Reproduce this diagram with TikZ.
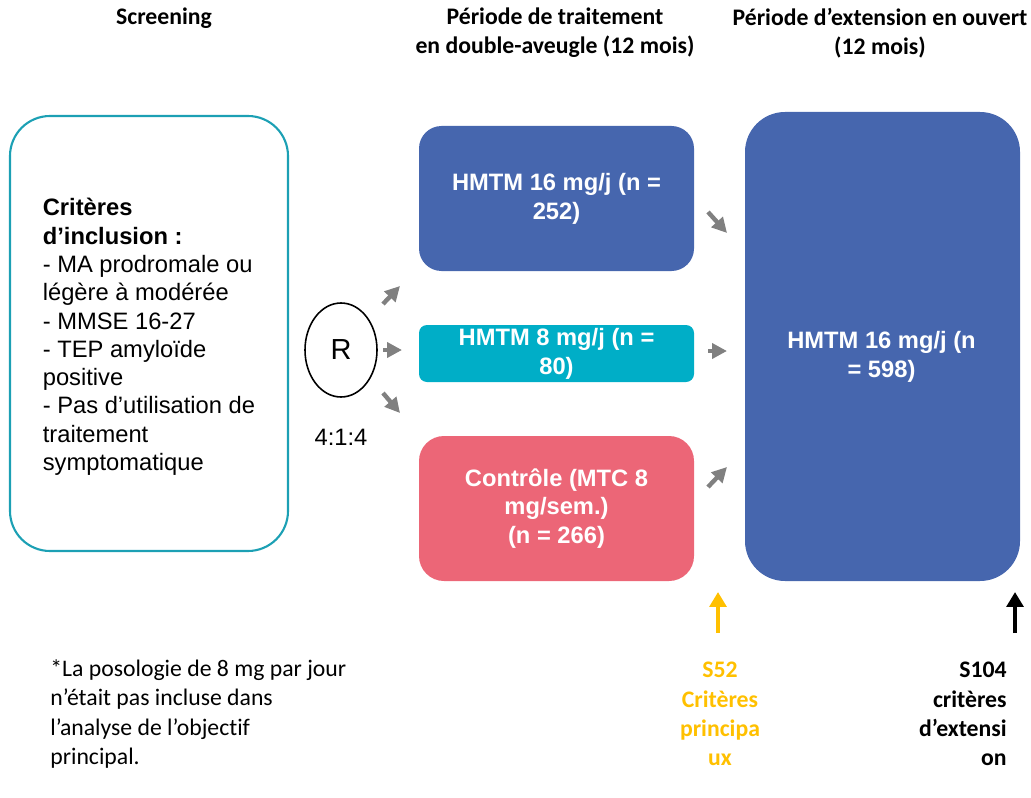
\documentclass[tikz,border=0pt]{standalone}
\usepackage{fontspec}
\setmainfont{Liberation Sans}
\newfontfamily\calib[Ligatures={TeX,NoCommon}]{Carlito}
\usetikzlibrary{arrows.meta,shapes.geometric}
\definecolor{boxteal}{RGB}{28,160,180}
\definecolor{armblue}{RGB}{70,102,174}
\definecolor{armteal}{RGB}{0,174,199}
\definecolor{armred}{RGB}{236,102,119}
\definecolor{arrowgray}{RGB}{128,128,128}
\definecolor{weekyellow}{RGB}{255,192,0}

\begin{document}
\begin{tikzpicture}[
		hdr/.style={font=\calib\bfseries\fontsize{13.5}{16.4}\selectfont, align=center},
		arm/.style={minimum width=5.5cm, inner sep=0pt, text=white, align=center, font=\bfseries\fontsize{13.5}{16.4}\selectfont},
		garrow/.style={draw=arrowgray, line width=2.5pt, -{Triangle[length=8.5pt, width=8.5pt]}},
		weekarrow/.style={line width=2.2pt, -{Triangle[length=8.5pt, width=9.5pt]}},
		note/.style={font=\calib\fontsize{13.5}{16.6}\selectfont, inner sep=0pt}]
		\useasboundingbox (0,0) rectangle (20.62,-15.94);
		% column headers
		\node[hdr] (hscr) at (3.28,-0.36) {Screening};
		\node[hdr] (htrt) at (11.1,-0.66) {Période de traitement\\en double-aveugle (12 mois)};
		\node[hdr] (hext) at (17.6,-0.66) {Période d’extension en ouvert\\(12 mois)};
		% screening box
		\node[draw=boxteal, line width=1.2pt, rounded corners=0.8cm, minimum width=5.56cm, minimum height=8.7cm] (incl) at (2.98,-6.67) {};
		\node[align=left, font=\fontsize{13.5}{16.1}\selectfont] (incltxt) at (2.98,-6.74) {\textbf{Critères}\\\textbf{d’inclusion :}\\- MA prodromale ou\\légère à modérée\\- MMSE 16-27\\- TEP amyloïde\\positive\\- Pas d’utilisation de\\traitement\\symptomatique};
		% randomisation
		\node[draw, ellipse, line width=0.9pt, minimum width=1.44cm, minimum height=1.88cm, inner sep=0pt, font=\fontsize{16.5}{18}\selectfont] (R) at (6.82,-7.0) {R};
		\node[font=\fontsize{13.5}{16}\selectfont] (ratio) at (6.82,-8.74) {4:1:4};
		% treatment arms
		\node[arm, fill=armblue, rounded corners=0.45cm, minimum height=2.9cm] (hm16) at (11.13,-3.97) {HMTM 16 mg/j (n =\\252)};
		\node[arm, fill=armteal, rounded corners=0.16cm, minimum height=1.14cm] (hm8) at (11.13,-7.07) {HMTM 8 mg/j (n =\\80)};
		\node[arm, fill=armred, rounded corners=0.5cm, minimum height=2.9cm] (ctrl) at (11.13,-10.17) {Contrôle (MTC 8\\mg/sem.)\\(n = 266)};
		% open-label extension
		\node[fill=armblue, rounded corners=0.8cm, minimum width=5.5cm, minimum height=9.38cm] (ext) at (17.65,-6.93) {};
		\node[arm, minimum width=0pt] (exttxt) at (17.63,-7.13) {HMTM 16 mg/j (n\\= 598)};
		% small grey arrows
		\coordinate (r1a) at (7.66,-6.08);  \coordinate (r1b) at (8.0,-5.72);
		\coordinate (r2a) at (7.66,-7.0);   \coordinate (r2b) at (8.04,-7.0);
		\coordinate (r3a) at (7.66,-7.86);  \coordinate (r3b) at (8.0,-8.26);
		\coordinate (e1a) at (14.16,-4.24); \coordinate (e1b) at (14.54,-4.66);
		\coordinate (e2a) at (14.16,-7.02); \coordinate (e2b) at (14.54,-7.02);
		\coordinate (e3a) at (14.16,-9.74); \coordinate (e3b) at (14.54,-9.34);
		\foreach \a/\b in {r1a/r1b, r2a/r2b, r3a/r3b, e1a/e1b, e2a/e2b, e3a/e3b}
			\draw[garrow] (\a) -- (\b);
		% week markers
		\node[note, font=\calib\bfseries\fontsize{13.5}{16.6}\selectfont, text=weekyellow, align=center] (s52) at (14.4,-14.28) {S52\\Critères\\principa\\ux};
		\node[note, font=\calib\bfseries\fontsize{13.5}{16.6}\selectfont, align=right, anchor=east] (s104) at (20.14,-14.28) {S104\\critères\\d’extensi\\on};
		\coordinate (w1a) at (14.36,-12.66); \coordinate (w1b) at (14.36,-11.84);
		\coordinate (w2a) at (20.3,-12.66);  \coordinate (w2b) at (20.3,-11.84);
		\draw[weekarrow, draw=weekyellow] (w1a) -- (w1b);
		\draw[weekarrow] (w2a) -- (w2b);
		% footnote
		\node[note, align=left, anchor=west] (fn) at (1.0,-14.28) {*La posologie de 8 mg par jour\\n’était pas incluse dans\\l’analyse de l’objectif\\principal.};
	\end{tikzpicture}
\end{document}
